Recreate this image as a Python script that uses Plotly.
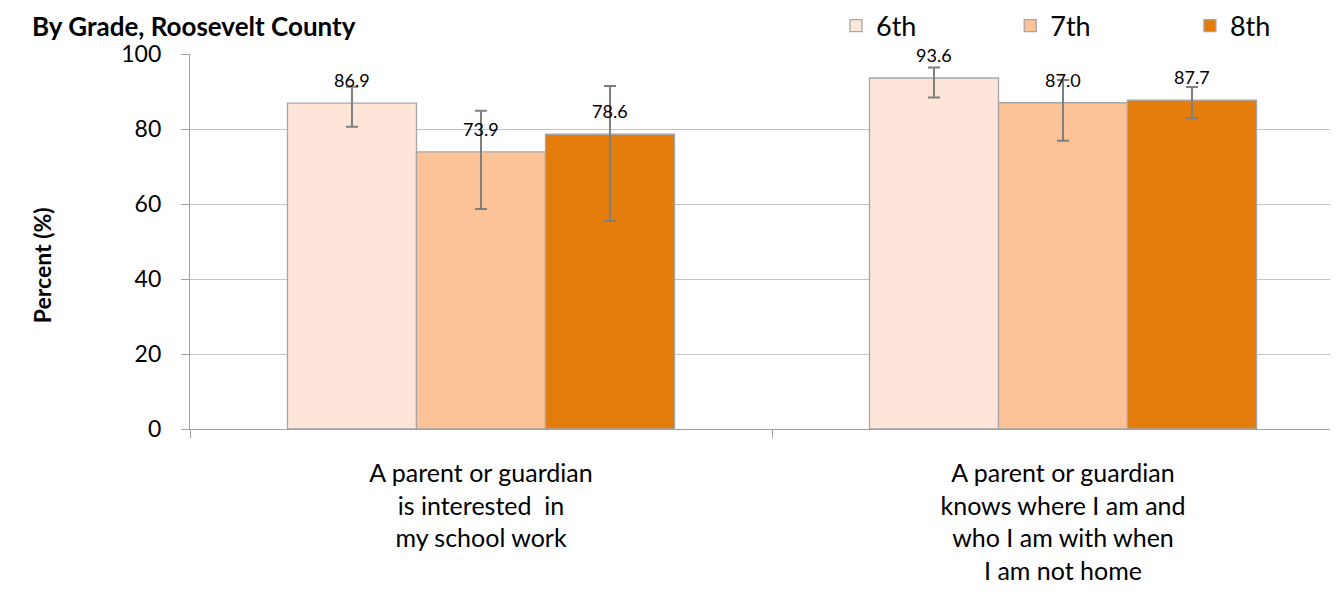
import plotly.graph_objects as go

# data
categories = [
    "A parent or guardian<br>is interested  in<br>my school work",
    "A parent or guardian<br>knows where I am and<br>who I am with when<br>I am not home",
]
grades = ["6th", "7th", "8th"]
values = {
    "6th": [86.9, 93.6],
    "7th": [73.9, 87.0],
    "8th": [78.6, 87.7],
}
ci_upper = {
    "6th": [91.3, 96.4],
    "7th": [84.9, 93.1],
    "8th": [91.5, 91.2],
}
ci_lower = {
    "6th": [80.6, 88.4],
    "7th": [58.7, 76.9],
    "8th": [55.5, 82.9],
}
colors = {"6th": "#fde6d9", "7th": "#fcc399", "8th": "#e37c0b"}

FONT = "Lato"
BARGAP = 0.335
bar_w = (1 - BARGAP) / len(grades)

# one legend per grade so each entry can sit where the original had it
legend_ids = ["legend", "legend2", "legend3"]
legend_x = [0.5627, 0.7145, 0.8710]

fig = go.Figure()

for g, lid in zip(grades, legend_ids):
    v = values[g]
    fig.add_trace(go.Bar(
        x=categories,
        y=v,
        name=g,
        legend=lid,
        marker=dict(color=colors[g], line=dict(color="#a6a6a6", width=1.3)),
        error_y=dict(
            type="data",
            symmetric=False,
            array=[u - y for u, y in zip(ci_upper[g], v)],
            arrayminus=[y - l for l, y in zip(ci_lower[g], v)],
            color="#7f7f7f",
            thickness=2,
            width=6,
        ),
    ))

# value labels above each bar
annotations = []
for i, g in enumerate(grades):
    for c, v in enumerate(values[g]):
        annotations.append(dict(
            x=c + (i - 1) * bar_w, y=v, xref="x", yref="y",
            text=f"{v:.1f}", showarrow=False,
            yanchor="middle", yshift=23,
            font=dict(family=FONT, size=18, color="#000000"),
        ))

annotations.append(dict(
    x=0.1463, y=1.0747, xref="paper", yref="paper",
    text="<b>By Grade, Roosevelt County</b>", showarrow=False,
    xanchor="right", yanchor="middle",
    font=dict(family=FONT, size=26, color="#000000"),
))
annotations.append(dict(
    x=-0.1289, y=0.437, xref="paper", yref="paper",
    text="<b>Percent (%)</b>", showarrow=False, textangle=-90,
    xanchor="center", yanchor="middle",
    font=dict(family=FONT, size=23, color="#000000"),
))

legend_style = dict(
    orientation="h", xanchor="left", y=1.0747, yanchor="middle",
    font=dict(family=FONT, size=27), bgcolor="rgba(0,0,0,0)",
)

fig.update_layout(
    width=1330, height=591,
    margin=dict(l=182, r=0, t=46, b=170, autoexpand=False),
    barmode="group",
    bargap=BARGAP,
    bargroupgap=0,
    plot_bgcolor="white",
    paper_bgcolor="white",
    font=dict(family=FONT, color="#000000"),
    annotations=annotations,
    legend=dict(x=legend_x[0], **legend_style),
    legend2=dict(x=legend_x[1], **legend_style),
    legend3=dict(x=legend_x[2], **legend_style),
    showlegend=True,
)

fig.update_xaxes(
    type="category",
    range=[-0.5, 1.4725],
    showline=True, linecolor="#a0a0a0", linewidth=1.3,
    ticks="outside", tickson="boundaries", ticklen=8, tickcolor="#a0a0a0",
    tickfont=dict(family=FONT, size=25),
    ticklabelstandoff=22,
    showgrid=False,
)
fig.update_yaxes(
    range=[0, 100], dtick=20,
    showline=True, linecolor="#a0a0a0", linewidth=1.3,
    ticks="outside", ticklen=8, tickcolor="#a0a0a0",
    gridcolor="#c4c4c4", gridwidth=1.3,
    tickfont=dict(family=FONT, size=23),
    ticklabelstandoff=15,
    zeroline=False,
)

fig.write_html("out.html")
